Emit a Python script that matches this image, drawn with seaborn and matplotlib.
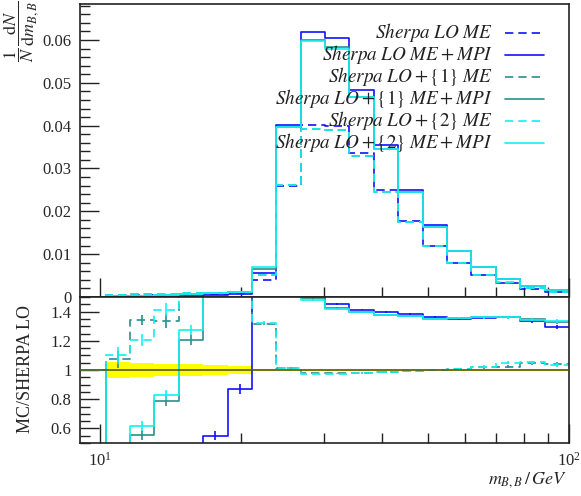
import numpy as np
import pandas as pd
import seaborn as sns
import matplotlib
matplotlib.use("Agg")
import matplotlib.pyplot as plt
from matplotlib.lines import Line2D
from matplotlib.ticker import MultipleLocator, FixedLocator, NullFormatter, FuncFormatter, LogFormatterSciNotation

# ---------------- data ----------------
edges = [9.07, 10.28, 11.59, 13.06, 14.72, 16.60, 18.71, 21.09, 23.77, 26.79, 30.20,
         34.04, 38.37, 43.25, 48.75, 54.95, 61.94, 69.82, 78.70, 88.72, 100.0]

lo_me      = [0, 0.0005, 0.0005, 0.0005, 0.0006, 0.0007, 0.0009, 0.0039, 0.0258, 0.0402, 0.0400,
              0.0335, 0.0250, 0.0177, 0.0120, 0.0079, 0.0051, 0.0032, 0.0019, 0.0012]
lo_me_mpi  = [0, 0.0001, 0.0001, 0.0001, 0.0002, 0.0004, 0.0008, 0.0056, 0.0402, 0.0619, 0.0605,
              0.0484, 0.0356, 0.0249, 0.0167, 0.0107, 0.0069, 0.0043, 0.0025, 0.00155]
lo1_me     = [0, 0.00054, 0.00067, 0.00067, 0.0009, 0.0010, 0.0012, 0.0051, 0.0262, 0.0393, 0.0391,
              0.0328, 0.0246, 0.0175, 0.0120, 0.0080, 0.0052, 0.0033, 0.0020, 0.00125]
lo1_me_mpi = [0, 0.0002, 0.0003, 0.0004, 0.0007, 0.0009, 0.0012, 0.0066, 0.0398, 0.0600, 0.0583,
              0.0468, 0.0346, 0.0245, 0.0163, 0.0107, 0.0069, 0.0043, 0.0026, 0.0016]
lo2_me     = [0, 0.00055, 0.0006, 0.0007, 0.0009, 0.0010, 0.0012, 0.0051, 0.0262, 0.0392, 0.0390,
              0.0328, 0.0246, 0.0175, 0.0120, 0.0080, 0.0052, 0.0034, 0.0020, 0.00124]
lo2_me_mpi = [0, 0.0002, 0.0003, 0.0004, 0.0008, 0.0009, 0.0012, 0.0069, 0.0396, 0.0598, 0.0579,
              0.0468, 0.0346, 0.0245, 0.0163, 0.0107, 0.0069, 0.0043, 0.0026, 0.0016]

# ratios to the reference (Sherpa LO ME)
r_lo_me      = [1.0] * 20
r_lo_me_mpi  = [1.0, 0.1, 0.1, 0.2, 0.3, 0.549, 0.868, 1.9, 1.56, 1.54, 1.45, 1.414, 1.398, 1.382,
                1.364, 1.352, 1.357, 1.36, 1.334, 1.295]
r_lo1_me     = [1.0, 1.072, 1.341, 1.336, 1.7, 1.7, 1.7, 1.318, 1.016, 0.977, 0.977, 0.98, 0.985,
                0.99, 0.997, 1.005, 1.018, 1.023, 1.045, 1.04]
r_lo1_me_mpi = [1.0, 0.3, 0.556, 0.788, 1.205, 1.7, 1.7, 1.7, 1.55, 1.49, 1.427, 1.398, 1.375,
                1.368, 1.352, 1.357, 1.36, 1.36, 1.348, 1.33]
r_lo2_me     = [1.0, 1.10, 1.205, 1.414, 1.7, 1.7, 1.7, 1.323, 1.016, 0.975, 0.975, 0.98, 0.985,
                0.99, 0.997, 1.008, 1.023, 1.05, 1.054, 1.034]
r_lo2_me_mpi = [1.0, 0.3, 0.618, 0.827, 1.273, 1.7, 1.7, 1.7, 1.55, 1.478, 1.416, 1.398, 1.375,
                1.368, 1.352, 1.357, 1.36, 1.36, 1.345, 1.334]

# ratio uncertainties
e_lo_me_mpi  = [0, 0, 0, 0, 0, 0.03, 0.034, 0.02, 0.01, 0.006, 0.006, 0.006, 0.006, 0.006, 0.006,
                0.007, 0.008, 0.009, 0.01, 0.012]
e_lo1_me     = [0, 0.055, 0.035, 0.045, 0.04, 0.035, 0.03, 0.01, 0.006, 0.005, 0.005, 0.005, 0.005,
                0.006, 0.006, 0.007, 0.008, 0.009, 0.01, 0.012]
e_lo1_me_mpi = [0, 0.05, 0.035, 0.035, 0.035, 0.035, 0.03, 0.02, 0.01, 0.006, 0.006, 0.006, 0.006,
                0.006, 0.006, 0.007, 0.008, 0.009, 0.01, 0.012]
e_lo2_me     = [0, 0.057, 0.04, 0.045, 0.04, 0.035, 0.03, 0.01, 0.006, 0.005, 0.005, 0.005, 0.005,
                0.006, 0.006, 0.007, 0.008, 0.009, 0.01, 0.012]
e_lo2_me_mpi = [0, 0.05, 0.035, 0.035, 0.035, 0.035, 0.03, 0.02, 0.01, 0.006, 0.006, 0.006, 0.006,
                0.006, 0.006, 0.007, 0.008, 0.009, 0.01, 0.012]
band = [0, 0.057, 0.045, 0.04, 0.04, 0.035, 0.03, 0.008, 0.005, 0.005, 0.005, 0.005, 0.005, 0.006,
        0.006, 0.007, 0.008, 0.008, 0.009, 0.01]

labels = [r"$Sherpa\ LO\ ME$", r"$Sherpa\ LO\ ME + MPI$",
          r"$Sherpa\ LO + \{1\}\ ME$", r"$Sherpa\ LO + \{1\}\ ME + MPI$",
          r"$Sherpa\ LO + \{2\}\ ME$", r"$Sherpa\ LO + \{2\}\ ME + MPI$"]

# ---------------- style ----------------
sns.set_theme(style="white")
plt.rcParams["font.family"] = ["Liberation Serif", "DejaVu Serif"]
plt.rcParams["mathtext.fontset"] = "stix"

BLUE = "#1010ff"
TEAL = "#2b8f8f"
CYAN = "#14f0f0"
DASH = (0, (5, 3))
LW = 1.2

series = [
    (lo_me, r_lo_me, None, BLUE, DASH),
    (lo_me_mpi, r_lo_me_mpi, e_lo_me_mpi, BLUE, "-"),
    (lo1_me, r_lo1_me, e_lo1_me, TEAL, DASH),
    (lo1_me_mpi, r_lo1_me_mpi, e_lo1_me_mpi, TEAL, "-"),
    (lo2_me, r_lo2_me, e_lo2_me, CYAN, DASH),
    (lo2_me_mpi, r_lo2_me_mpi, e_lo2_me_mpi, CYAN, "-"),
]

W, H = 581, 496
fig = plt.figure(figsize=(W / 100, H / 100), dpi=100)
ax1 = fig.add_axes([80 / W, (H - 297) / H, (569 - 80) / W, (297 - 4) / H])
ax2 = fig.add_axes([80 / W, (H - 443) / H, (569 - 80) / W, (443 - 297) / H])

edges_a = np.array(edges)
centers = np.sqrt(edges_a[:-1] * edges_a[1:])

def steps(vals):
    return pd.DataFrame({"x": edges, "y": list(vals) + [vals[-1]]})

# band
ax2.fill_between(edges, [1 - b for b in band] + [1 - band[-1]], [1 + b for b in band] + [1 + band[-1]],
                 step="post", color="#ffff00", linewidth=0, zorder=1)

for (vals, rat, err, col, ls) in series:
    d = steps(vals)
    sns.lineplot(data=d, x="x", y="y", ax=ax1, color=col, linestyle=ls, linewidth=LW,
                 drawstyle="steps-post", estimator=None, sort=False)
    r = steps(rat)
    if err is None:
        sns.lineplot(data=r, x="x", y="y", ax=ax2, color="#5a5a10", linewidth=LW,
                     drawstyle="steps-post", estimator=None, sort=False, zorder=3)
    else:
        sns.lineplot(data=r, x="x", y="y", ax=ax2, color=col, linestyle=ls, linewidth=LW,
                     drawstyle="steps-post", estimator=None, sort=False, zorder=2)
        ax2.errorbar(centers, rat, yerr=err, fmt="none", ecolor=col, elinewidth=LW, zorder=2)

for ax in (ax1, ax2):
    ax.set_xscale("log")
    ax.set_xlim(9.07, 100.0)
    ax.xaxis.set_major_locator(FixedLocator([10, 100]))
    ax.xaxis.set_minor_locator(FixedLocator([20, 30, 40, 50, 60, 70, 80, 90]))
    ax.xaxis.set_minor_formatter(NullFormatter())
    ax.tick_params(axis="both", which="major", direction="in", length=14, width=1.0,
                   color="#222222", labelsize=12, top=False, right=False, pad=6)
    ax.tick_params(axis="both", which="minor", direction="in", length=7, width=1.0,
                   color="#222222", top=False, right=False)
    ax.tick_params(axis="y", which="both", left=True)
    ax.tick_params(axis="x", which="both", bottom=True)
    for s in ax.spines.values():
        s.set_color("#222222")
        s.set_linewidth(1.2)
    ax.set_xlabel("")
    ax.set_ylabel("")

fmt = FuncFormatter(lambda v, p: "%g" % round(v, 4))
ax1.set_ylim(0, 0.0684)
ax1.yaxis.set_major_locator(MultipleLocator(0.01))
ax1.yaxis.set_minor_locator(MultipleLocator(0.002))
ax1.yaxis.set_major_formatter(fmt)
ax1.xaxis.set_major_formatter(NullFormatter())

ax2.set_ylim(0.5, 1.5)
ax2.yaxis.set_major_locator(FixedLocator([0.6, 0.8, 1.0, 1.2, 1.4]))
ax2.yaxis.set_minor_locator(MultipleLocator(0.05))
ax2.yaxis.set_major_formatter(fmt)
ax2.xaxis.set_major_formatter(LogFormatterSciNotation())
ax2.tick_params(axis="x", which="major", pad=6)

# legend (text right-aligned, line sample to the right)
for i, ((vals, rat, err, col, ls), lab) in enumerate(zip(series, labels)):
    yy = 1 - (33 + 22 * i) / H
    fig.text(493 / W, yy, lab, ha="right", va="center", fontsize=13.8, color="#222222")
    fig.add_artist(Line2D([505 / W, 544 / W], [yy, yy], color=col, linestyle=ls, linewidth=LW,
                          transform=fig.transFigure))

fig.text(21 / W, 1 - 31 / H, r"$\dfrac{1}{N}\,\dfrac{\mathrm{d}N}{\mathrm{d}m_{B,B}}$", rotation=90,
         ha="center", va="center", fontsize=13)
fig.text(26 / W, 1 - 369 / H, "MC/SHERPA LO", rotation=90, ha="center", va="center", fontsize=13)
fig.text(567 / W, 1 - 480 / H, r"$m_{B,B}\,/\,GeV$", ha="right", va="center", fontsize=13)

fig.savefig("out.png", dpi=100)
